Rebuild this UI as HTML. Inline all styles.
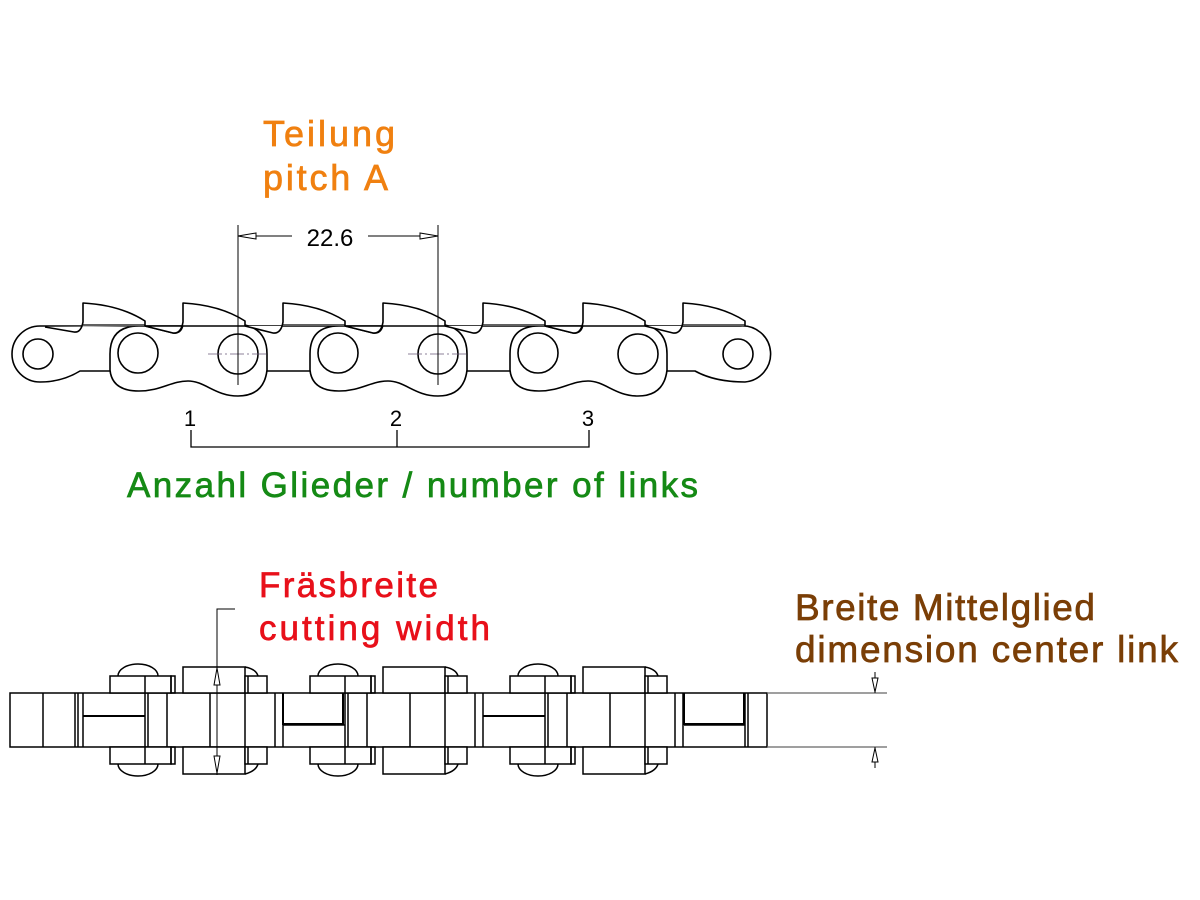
<!DOCTYPE html>
<html><head><meta charset="utf-8"><style>
html,body{margin:0;padding:0;background:#fff;width:1200px;height:900px;overflow:hidden}
svg{display:block}
text{font-family:"Liberation Sans",Arial,sans-serif}
</style></head><body>
<svg width="1200" height="900" viewBox="0 0 1200 900" xmlns="http://www.w3.org/2000/svg">
<g fill="none" stroke="#000" stroke-width="1.6" stroke-linejoin="round">
<path fill="#fff" d="M40,326 L740,326 A28,28 0 0 1 745,382 Q715,382 695,371 L80,371 Q62,382 40,382 A28,28 0 0 1 40,326 Z"/>
<circle cx="38" cy="354" r="15" fill="#fff"/>
<circle cx="738" cy="354" r="15" fill="#fff"/>
<g fill="#fff">
<path d="M110,354 Q110,326 139,326 L145,326 L173,333 Q181,334 183,325 L245,325 Q267,330 267,354 L267,370 Q264,396 238,396 C215,396 205,381 188,381 C171,381 161,391 139,391 Q112,391 110,370 Z"/>
<path d="M310,354 Q310,326 339,326 L345,326 L373,333 Q381,334 383,325 L445,325 Q467,330 467,354 L467,370 Q464,396 438,396 C415,396 405,381 388,381 C371,381 361,391 339,391 Q312,391 310,370 Z"/>
<path d="M510,354 Q510,326 539,326 L545,326 L573,333 Q581,334 583,325 L645,325 Q667,330 667,354 L667,370 Q664,396 638,396 C615,396 605,381 588,381 C571,381 561,391 539,391 Q512,391 510,370 Z"/>
</g>
<g fill="#fff">
<circle cx="138" cy="353" r="20"/><circle cx="238" cy="354" r="20"/>
<circle cx="338" cy="353" r="20"/><circle cx="438" cy="354" r="20"/>
<circle cx="538" cy="353" r="20"/><circle cx="638" cy="354" r="20"/>
</g>
<g fill="#fff">
<path d="M45,327 L74,332 Q81,333 83,322 L83,303 Q120,305 145,321 L145,326"/>
<path d="M145,326 L173,333 Q181,334 183,322 L183,303 Q220,305 245,321 L245,326 Z"/>
<path d="M245,326 L273,333 Q281,334 283,322 L283,303 Q320,305 345,321 L345,326"/>
<path d="M345,326 L373,333 Q381,334 383,322 L383,303 Q420,305 445,321 L445,326 Z"/>
<path d="M445,326 L473,333 Q481,334 483,322 L483,303 Q520,305 545,321 L545,326"/>
<path d="M545,326 L573,333 Q581,334 583,322 L583,303 Q620,305 645,321 L645,326 Z"/>
<path d="M645,326 L673,333 Q681,334 683,322 L683,303 Q720,305 745,321 L745,326"/>
</g>
<g stroke-width="1.3">
<line x1="83" y1="325" x2="145" y2="325"/><line x1="283" y1="325" x2="345" y2="325"/>
<line x1="483" y1="325" x2="545" y2="325"/><line x1="683" y1="325" x2="745" y2="325"/>
</g>
</g>
<g stroke="#6a5a7a" stroke-width="0.8" stroke-dasharray="14,3,2,3">
<line x1="208" y1="354" x2="268" y2="354"/><line x1="408" y1="354" x2="468" y2="354"/>
</g>
<g stroke="#000" stroke-width="1" fill="none">
<line x1="238" y1="225" x2="238" y2="385"/><line x1="438" y1="225" x2="438" y2="385"/>
<line x1="238" y1="236" x2="292" y2="236"/><line x1="368" y1="236" x2="438" y2="236"/>
<path d="M238,236 L256,233 L256,239 Z" fill="#fff"/>
<path d="M438,236 L420,233 L420,239 Z" fill="#fff"/>
<path d="M191,430 L191,447 L589,447 L589,430 M397,447 L397,430" stroke-width="1.3"/>
</g>
<text x="330" y="246" font-size="24" text-anchor="middle">22.6</text>
<text x="190" y="426" font-size="22" text-anchor="middle">1</text>
<text x="396" y="426" font-size="22" text-anchor="middle">2</text>
<text x="588" y="426" font-size="22" text-anchor="middle">3</text>
<g stroke-width="0.7">
<text x="263" y="146" font-size="36" fill="#f08010" stroke="#f08010" textLength="132">Teilung</text>
<text x="263" y="190" font-size="36" fill="#f08010" stroke="#f08010" textLength="125">pitch A</text>
<text x="127" y="497" font-size="35" fill="#158a15" stroke="#158a15" textLength="571">Anzahl Glieder / number of links</text>
<text x="259" y="597" font-size="35" fill="#e8101a" stroke="#e8101a" textLength="179">Fräsbreite</text>
<text x="259" y="640" font-size="35" fill="#e8101a" stroke="#e8101a" textLength="231">cutting width</text>
<text x="795" y="620" font-size="37" fill="#7a3e06" stroke="#7a3e06" textLength="300">Breite Mittelglied</text>
<text x="795" y="662" font-size="37" fill="#7a3e06" stroke="#7a3e06" textLength="383">dimension center link</text>
</g>

<g fill="none" stroke="#000" stroke-width="1.5">
<defs>
<g id="seg">
<path d="M118,676 A20,12 0 0 1 158,676" fill="#fff"/>
<path d="M118,764 A20,12 0 0 0 158,764" fill="#fff"/>
<path d="M245,667 Q256,669 258,676 M245,774 Q256,771 258,764"/>
<rect x="110" y="676" width="61" height="17" fill="#fff"/>
<rect x="110" y="747" width="61" height="17" fill="#fff"/>
<line x1="145" y1="676" x2="145" y2="693"/><line x1="145" y1="747" x2="145" y2="764"/>
<rect x="171" y="676" width="4" height="17"/><rect x="171" y="747" width="4" height="17"/>
<rect x="183" y="667" width="62" height="26" fill="#fff"/>
<rect x="183" y="747" width="62" height="27" fill="#fff"/>
<rect x="245" y="676" width="22" height="17" fill="#fff"/>
<rect x="245" y="747" width="22" height="17" fill="#fff"/>
<line x1="248" y1="676" x2="248" y2="693"/><line x1="248" y1="747" x2="248" y2="764"/>
<line x1="145" y1="693" x2="145" y2="747"/><line x1="148" y1="693" x2="148" y2="747"/>
<line x1="167" y1="693" x2="167" y2="747"/><line x1="210" y1="693" x2="210" y2="747"/>
<line x1="245" y1="693" x2="245" y2="747"/><line x1="275" y1="693" x2="275" y2="747"/>
<line x1="283" y1="693" x2="283" y2="747"/>
</g>
</defs>
<rect x="10" y="693" width="757" height="54" fill="#fff"/>
<line x1="43" y1="693" x2="43" y2="747"/><line x1="75" y1="693" x2="75" y2="747"/>
<line x1="78" y1="693" x2="78" y2="747"/><line x1="83" y1="693" x2="83" y2="747"/>
<use href="#seg"/>
<use href="#seg" transform="translate(200,0)"/>
<use href="#seg" transform="translate(400,0)"/>
<path d="M83,716 L145,716" stroke-width="2"/>
<path d="M283,693 L283,724 L343,724 L343,693" stroke-width="2"/><line x1="283" y1="725" x2="345" y2="725"/>
<path d="M483,716 L545,716" stroke-width="2"/>
<path d="M684,693 L684,724 L744,724 L744,693" stroke-width="2"/><line x1="684" y1="725" x2="745" y2="725"/>
<line x1="745" y1="693" x2="745" y2="747"/><line x1="748" y1="693" x2="748" y2="747"/>
</g>
<g stroke="#000" stroke-width="1" fill="#fff">
<path d="M235,609 L217,609 L217,775" fill="none"/>
<path d="M217,668 L214,685 L220,685 Z"/>
<path d="M217,773 L214,756 L220,756 Z"/>
</g>
<g stroke="#666" stroke-width="1.2" fill="none">
<line x1="767" y1="693" x2="887" y2="693"/><line x1="767" y1="747" x2="887" y2="747"/>
</g>
<g stroke="#000" stroke-width="1" fill="#fff">
<path d="M875,672 L875,693 M875,747 L875,768" fill="none"/>
<path d="M875,692 L872,678 L878,678 Z"/>
<path d="M875,748 L872,762 L878,762 Z"/>
</g>
</svg>
</body></html>
